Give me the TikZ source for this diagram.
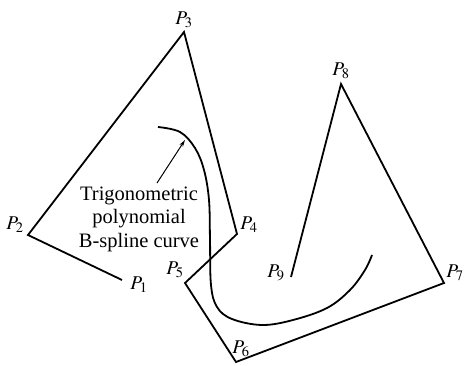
\documentclass[tikz,border=0pt]{standalone}
\usepackage{mathptmx}
\usepackage[no-math]{fontspec}
\setmainfont{Liberation Serif}
\usetikzlibrary{arrows.meta}

\begin{document}
\begin{tikzpicture}[x=1pt, y=-1pt, line join=miter, >={Stealth[length=7pt, width=4pt]},
    poly/.style={line width=1.8pt},
    plabel/.style={inner sep=0pt, font=\fontsize{19.5}{22}\selectfont}]
    \useasboundingbox (0, 0) rectangle (464, 366);
    % Control points
    \coordinate (C1) at (122, 280);
    \coordinate (C2) at (28, 235);
    \coordinate (C3) at (184, 32);
    \coordinate (C4) at (237, 234);
    \coordinate (C5) at (185, 283);
    \coordinate (C6) at (236, 362);
    \coordinate (C7) at (444, 283);
    \coordinate (C8) at (341, 84);
    \coordinate (C9) at (291, 277);
    \draw[poly] (C1) -- (C2) -- (C3) -- (C4) -- (C5) -- (C6) -- (C7) -- (C8) -- (C9);
    % Labels
    \node[plabel] (L1) at (139, 285) {$P_{1}$};
    \node[plabel] (L2) at (15, 225) {$P_{2}$};
    \node[plabel] (L3) at (184, 20) {$P_{3}$};
    \node[plabel] (L4) at (249, 225) {$P_{4}$};
    \node[plabel] (L5) at (175, 270) {$P_{5}$};
    \node[plabel] (L6) at (241, 349) {$P_{6}$};
    \node[plabel] (L7) at (455, 273) {$P_{7}$};
    \node[plabel] (L8) at (341, 71) {$P_{8}$};
    \node[plabel] (L9) at (276, 273) {$P_{9}$};
    % Spline curve
    \draw[poly] plot[smooth, tension=0.6] coordinates {(158,127) (180,132) (195,148) (204,170)
        (209,200) (210,240) (211,285) (217,307) (232,319) (262,325) (293,320) (327,308)
        (350,290) (365,270) (372,255)};
    \node[align=center, inner sep=0pt, font=\fontsize{20.5}{23.5}\selectfont] (curve_text) at (139, 219)
        {Trigonometric\\polynomial\\B-spline curve};
    \coordinate (A_tail) at (157, 183);
    \coordinate (A_head) at (185, 140);
    \draw[->, line width=1pt] (A_tail) -- (A_head);
\end{tikzpicture}
\end{document}
